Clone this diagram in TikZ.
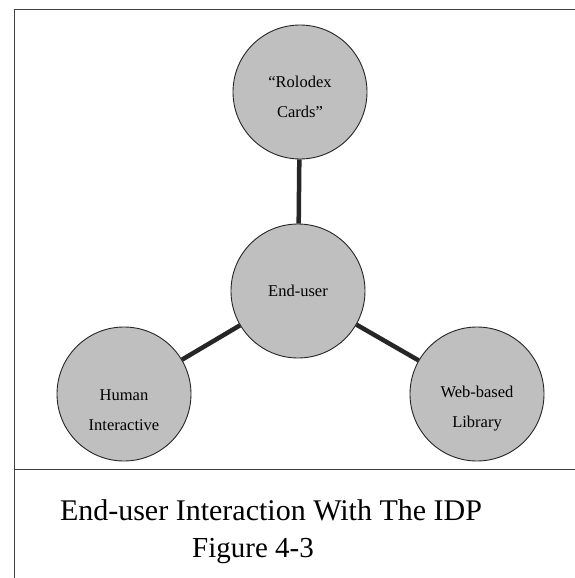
\documentclass[tikz,border=0pt]{standalone}
\usepackage{fontspec}
\setmainfont{Liberation Serif}
\begin{document}
\begin{tikzpicture}[x=1pt,y=-1pt,
  bubble/.style={circle,draw=black!85,line width=0.9pt,fill=black!25,minimum size=134pt,inner sep=0pt},
  lbl/.style={align=center,font=\fontsize{16.5}{30}\selectfont,inner sep=0pt},
  link/.style={line width=4.5pt,draw=black!85},
  frame/.style={line width=1pt,draw=black!75}]
\useasboundingbox (0,0) rectangle (575,578);
\fill[white] (0,0) rectangle (575,578);
\draw[frame] (575,10) -- (14,10) -- (14,578);
\draw[frame] (14,469) -- (575,469);
\node[bubble] (top) at (300,92) {};
\node[bubble] (mid) at (298,291) {};
\node[bubble] (left) at (124,394) {};
\node[bubble] (right) at (477,394) {};
\node[lbl] (toplbl) at (300,97) {``Rolodex\\Cards''};
\node[lbl] (midlbl) at (298,291) {End-user};
\node[lbl] (leftlbl) at (124,410) {Human\\Interactive};
\node[lbl] (rightlbl) at (477,409) {Web-based\\Library};
\draw[link] (mid) -- (top);
\draw[link] (mid) -- (left);
\draw[link] (mid) -- (right);
\node[font=\fontsize{30}{36}\selectfont] (title) at (271,510) {End-user Interaction With The IDP};
\node[font=\fontsize{29}{36}\selectfont] (fig) at (253,551) {Figure 4-3};
\end{tikzpicture}
\end{document}
